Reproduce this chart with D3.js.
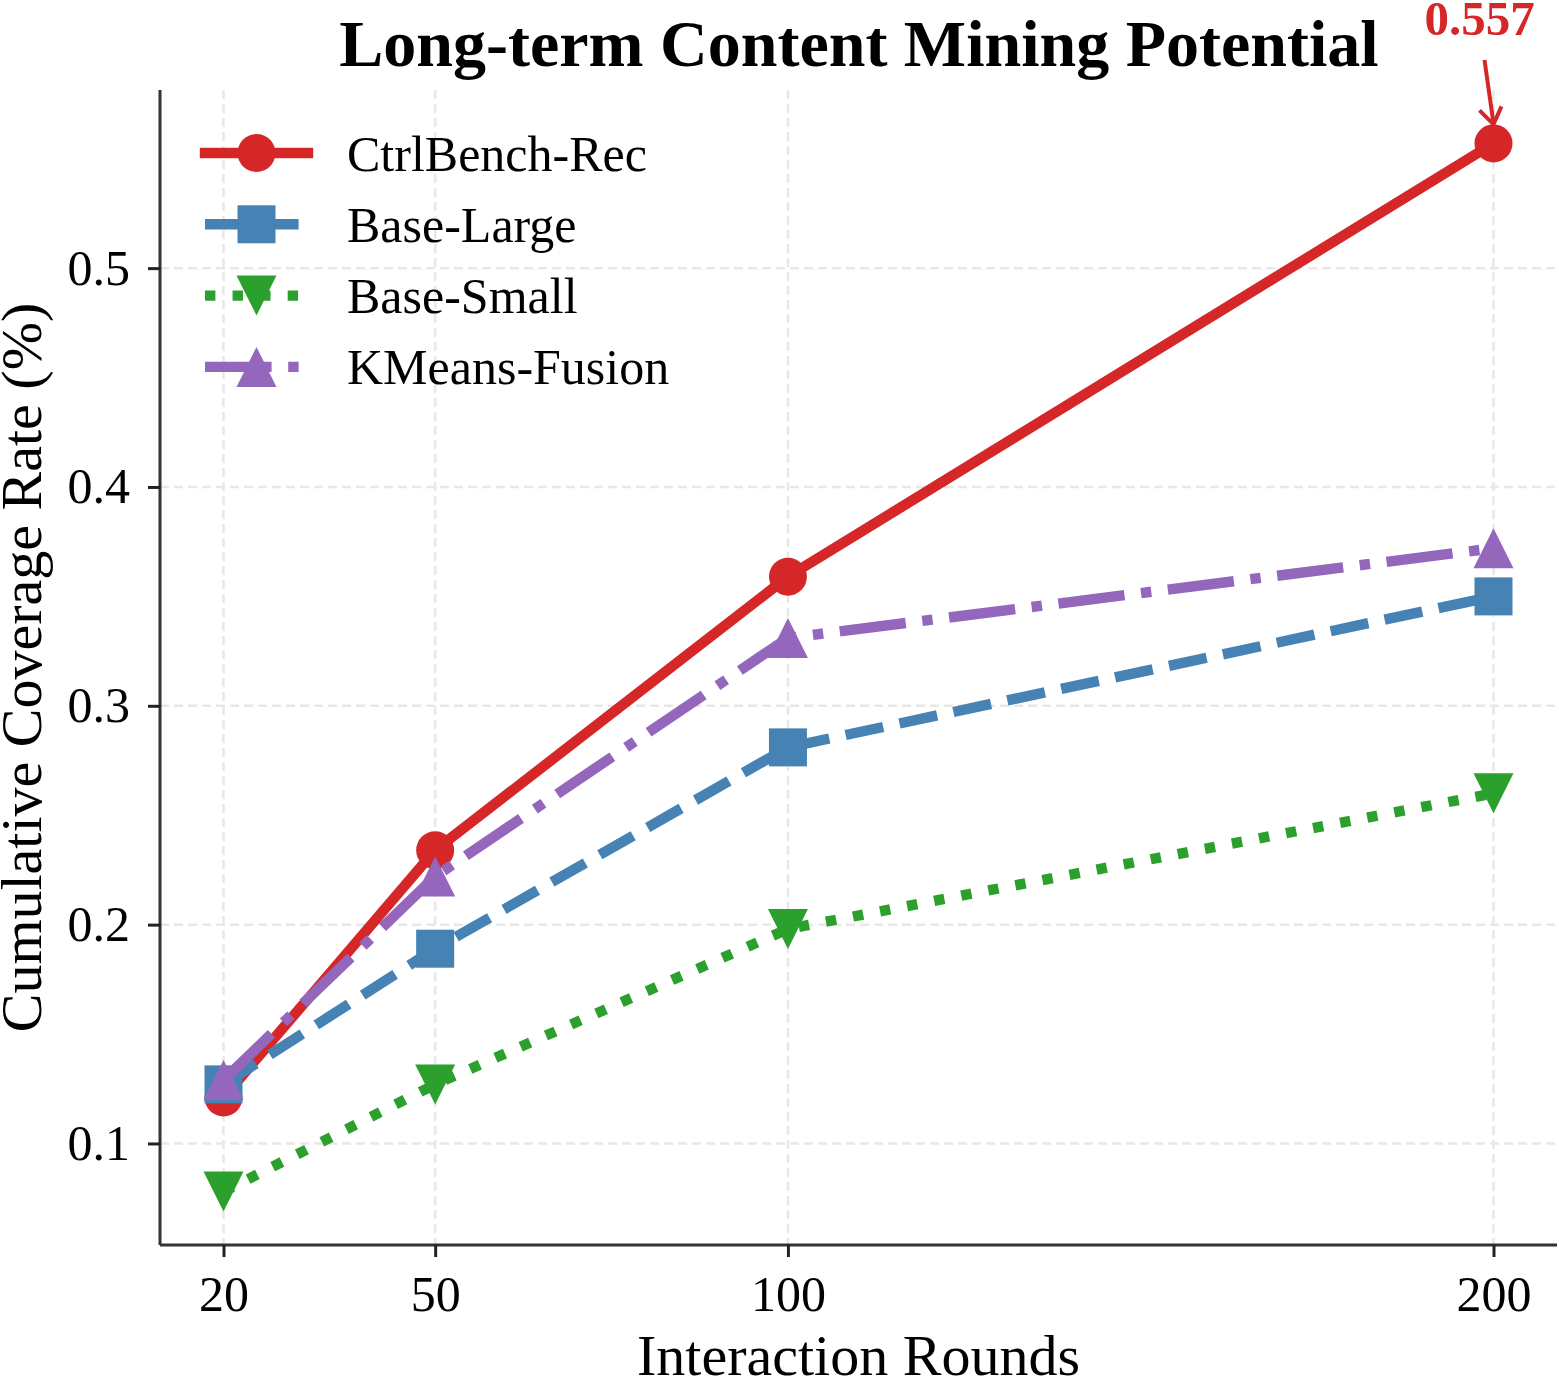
<!DOCTYPE html>
<html>
<head>
<meta charset="utf-8">
<script src="https://cdn.jsdelivr.net/npm/d3@7"></script>
<style>
  body { margin: 0; background: #fff; }
  text { font-family: "Liberation Serif", "DejaVu Serif", serif; }
</style>
</head>
<body>
<div id="chart"></div>
<script>
const width = 1559, height = 1379;

// data
const rounds = [20, 50, 100, 200];
const ctrlBench = [0.121, 0.234, 0.359, 0.557];
const baseLarge = [0.127, 0.189, 0.281, 0.350];
const baseSmall = [0.078, 0.127, 0.198, 0.260];
const kmeansFusion = [0.129, 0.222, 0.331, 0.372];
const yTicks = [0.1, 0.2, 0.3, 0.4, 0.5];

const lw = 10.4;
const series = [
  { name: "CtrlBench-Rec", values: ctrlBench, color: "#d62728", dash: null, marker: "circle" },
  { name: "Base-Large", values: baseLarge, color: "#4682b4", dash: `${3.7 * lw},${1.6 * lw}`, marker: "square" },
  { name: "Base-Small", values: baseSmall, color: "#2ca02c", dash: `${lw},${1.65 * lw}`, marker: "down" },
  { name: "KMeans-Fusion", values: kmeansFusion, color: "#9467bd", dash: `${6.4 * lw},${1.6 * lw},${lw},${1.6 * lw}`, marker: "up" }
];

const margin = { left: 160, right: 2, top: 90, bottom: 134 };

const svg = d3.select("#chart")
  .append("svg")
  .attr("width", width)
  .attr("height", height);

// scales (matplotlib-style 5% padding)
const x = d3.scaleLinear().domain([11, 209]).range([margin.left, width - margin.right]);
const y = d3.scaleLinear().domain([0.0536, 0.5814]).range([height - margin.bottom, margin.top]);

// grid
const grid = svg.append("g");
grid.selectAll(".gx").data(rounds).enter().append("line")
  .attr("x1", d => x(d)).attr("x2", d => x(d))
  .attr("y1", margin.top).attr("y2", height - margin.bottom)
  .attr("stroke", "#e8e8e8").attr("stroke-width", 2.5).attr("stroke-dasharray", "9,5");
grid.selectAll(".gy").data(yTicks).enter().append("line")
  .attr("x1", margin.left).attr("x2", width - margin.right)
  .attr("y1", d => y(d)).attr("y2", d => y(d))
  .attr("stroke", "#e8e8e8").attr("stroke-width", 2.5).attr("stroke-dasharray", "9,5");

// axes
const xAxis = svg.append("g")
  .attr("transform", `translate(0,${height - margin.bottom})`)
  .call(d3.axisBottom(x).tickValues(rounds).tickSize(12).tickPadding(18));
const yAxis = svg.append("g")
  .attr("transform", `translate(${margin.left},0)`)
  .call(d3.axisLeft(y).tickValues(yTicks).tickFormat(d3.format(".1f")).tickSize(12).tickPadding(18));

[xAxis, yAxis].forEach(a => {
  a.select(".domain").attr("stroke", "#333").attr("stroke-width", 3);
  a.selectAll(".tick line").attr("stroke", "#222").attr("stroke-width", 3);
  a.selectAll(".tick text")
    .attr("fill", "#000")
    .style("font-family", "'Liberation Serif', serif")
    .style("font-size", "50px");
});
xAxis.select(".domain").attr("d", `M${margin.left},0H${width - margin.right}`);
yAxis.select(".domain").attr("d", `M0,${margin.top}V${height - margin.bottom}`);

// markers
function drawMarker(g, type, cx, cy, color) {
  if (type === "circle") {
    g.append("circle").attr("cx", cx).attr("cy", cy).attr("r", 19).attr("fill", color);
  } else if (type === "square") {
    g.append("rect").attr("x", cx - 19).attr("y", cy - 19).attr("width", 38).attr("height", 38).attr("fill", color);
  } else if (type === "down") {
    g.append("path").attr("d", `M${cx - 20},${cy - 20}L${cx + 20},${cy - 20}L${cx},${cy + 20}Z`).attr("fill", color);
  } else if (type === "up") {
    g.append("path").attr("d", `M${cx - 20},${cy + 20}L${cx + 20},${cy + 20}L${cx},${cy - 20}Z`).attr("fill", color);
  }
}

const line = d3.line().x(d => x(d[0])).y(d => y(d[1]));

series.forEach(s => {
  const g = svg.append("g");
  const pts = rounds.map((r, i) => [r, s.values[i]]);
  g.append("path")
    .datum(pts)
    .attr("d", line)
    .attr("fill", "none")
    .attr("stroke", s.color)
    .attr("stroke-width", lw)
    .attr("stroke-linejoin", "round")
    .attr("stroke-dasharray", s.dash);
  pts.forEach(p => drawMarker(g, s.marker, x(p[0]), y(p[1]), s.color));
});

// annotation for peak
const peakX = x(rounds[3]), peakY = y(ctrlBench[3]);
svg.append("text")
  .attr("x", peakX - 14).attr("y", 35)
  .attr("text-anchor", "middle")
  .attr("fill", "#d62728")
  .style("font-size", "49px").style("font-weight", "bold")
  .text(ctrlBench[3].toFixed(3));
svg.append("line")
  .attr("x1", peakX - 9).attr("y1", 60)
  .attr("x2", peakX).attr("y2", peakY - 20)
  .attr("stroke", "#d62728").attr("stroke-width", 4);
svg.append("path")
  .attr("d", `M${peakX - 14},${peakY - 33}L${peakX},${peakY - 19}L${peakX + 8},${peakY - 37}`)
  .attr("fill", "none").attr("stroke", "#d62728").attr("stroke-width", 4);

// title
svg.append("text")
  .attr("x", 859).attr("y", 66)
  .attr("text-anchor", "middle")
  .style("font-size", "66px").style("font-weight", "bold")
  .text("Long-term Content Mining Potential");

// axis labels
svg.append("text")
  .attr("x", (margin.left + width - margin.right) / 2).attr("y", 1375)
  .attr("text-anchor", "middle")
  .style("font-size", "58px")
  .text("Interaction Rounds");
svg.append("text")
  .attr("transform", `translate(41,${(margin.top + height - margin.bottom) / 2}) rotate(-90)`)
  .attr("text-anchor", "middle")
  .style("font-size", "58px")
  .text("Cumulative Coverage Rate (%)");

// legend
const legend = svg.append("g").attr("transform", "translate(205,153)");
series.forEach((s, i) => {
  const row = legend.append("g").attr("transform", `translate(0,${i * 71.3})`);
  row.append("line")
    .attr("x1", 0).attr("x2", 103).attr("y1", 0).attr("y2", 0)
    .attr("stroke", s.color).attr("stroke-width", lw)
    .attr("stroke-linecap", s.dash ? "butt" : "square")
    .attr("stroke-dasharray", s.dash);
  drawMarker(row, s.marker, 51.5, 0, s.color);
  row.append("text")
    .attr("x", 142).attr("y", 0).attr("dy", "0.35em")
    .style("font-size", "50px")
    .text(s.name);
});
</script>
</body>
</html>
